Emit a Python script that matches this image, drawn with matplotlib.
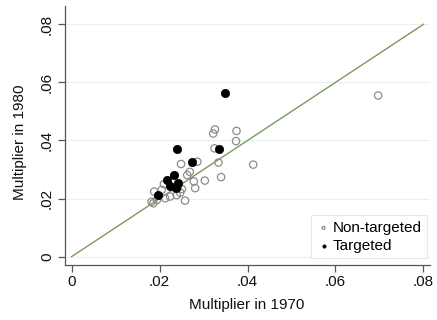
import matplotlib
matplotlib.use("Agg")
import matplotlib.pyplot as plt

plt.rcParams['font.family'] = ['Liberation Sans', 'DejaVu Sans']

# Multipliers
nt_1970 = [0.0697, 0.0375, 0.0374, 0.0326, 0.0322, 0.0325, 0.0334, 0.0286, 0.0249, 0.0413,
           0.0340, 0.0303, 0.0278, 0.0269, 0.0263, 0.0251, 0.0281, 0.0258, 0.0188, 0.0205,
           0.0182, 0.0194, 0.0213, 0.0224, 0.0239, 0.0247, 0.0210, 0.0186, 0.0242]
nt_1980 = [0.0555, 0.0433, 0.0398, 0.0438, 0.0424, 0.0373, 0.0324, 0.0327, 0.0319, 0.0317,
           0.0274, 0.0262, 0.0259, 0.0292, 0.0281, 0.0233, 0.0236, 0.0193, 0.0224, 0.0230,
           0.0189, 0.0195, 0.0201, 0.0207, 0.0212, 0.0220, 0.0250, 0.0184, 0.0240]
t_1970 = [0.0349, 0.0336, 0.0239, 0.0273, 0.0234, 0.0217, 0.0241, 0.0224, 0.0237, 0.0197]
t_1980 = [0.0565, 0.0370, 0.0370, 0.0325, 0.0282, 0.0264, 0.0253, 0.0243, 0.0235, 0.0211]

ticks = [0, 0.02, 0.04, 0.06, 0.08]
tick_labels = ['0', '.02', '.04', '.06', '.08']

fig = plt.figure(figsize=(4.37, 3.2), dpi=100)
ax = fig.add_axes([65/437, 1-265/320, 365/437, 259/320])

ax.set_xlim(-0.00148, 0.08148)
ax.set_ylim(-0.00286, 0.0863)

for t in ticks:
    ax.axhline(t, color='#e9f0f0', lw=0.9, zorder=0)

ax.plot([0, 0.08], [0, 0.08], color='#7a9a5a', lw=1.0, zorder=1)

ax.scatter(nt_1970, nt_1980, s=28, facecolors='none', edgecolors='#8c8c8c',
           linewidths=0.9, zorder=2, label='Non-targeted')
ax.scatter(t_1970, t_1980, s=36, facecolors='black', edgecolors='black',
           linewidths=0.5, zorder=3, label='Targeted')

ax.set_xticks(ticks)
ax.set_xticklabels(tick_labels)
ax.set_yticks(ticks)
ax.set_yticklabels(tick_labels, rotation=90, va='center')

for side in ['top', 'right']:
    ax.spines[side].set_visible(False)
for side in ['left', 'bottom']:
    ax.spines[side].set_color('#555555')
    ax.spines[side].set_linewidth(0.9)

ax.tick_params(axis='both', direction='out', length=5, width=0.9, color='#555555',
               labelsize=11, labelcolor='#111111')
ax.tick_params(axis='x', pad=2.5)
ax.tick_params(axis='y', pad=3)

ax.set_xlabel('Multiplier in 1970', fontsize=11, color='#111111')
ax.set_ylabel('Multiplier in 1980', fontsize=11, color='#111111')
ax.xaxis.set_label_coords(0.4986, -0.127)
ax.yaxis.set_label_coords(-0.104, 0.475)

leg = ax.legend(loc='lower right', bbox_to_anchor=(0.992, 0.027), borderaxespad=0,
                fontsize=11, markerscale=0.4, handletextpad=0.15, borderpad=0.35,
                labelspacing=0.25, handlelength=0.9, fancybox=False, framealpha=1)
leg.get_frame().set_edgecolor('#e3eaea')
leg.get_frame().set_linewidth(0.8)

plt.savefig('out.png', dpi=100)
plt.close()
